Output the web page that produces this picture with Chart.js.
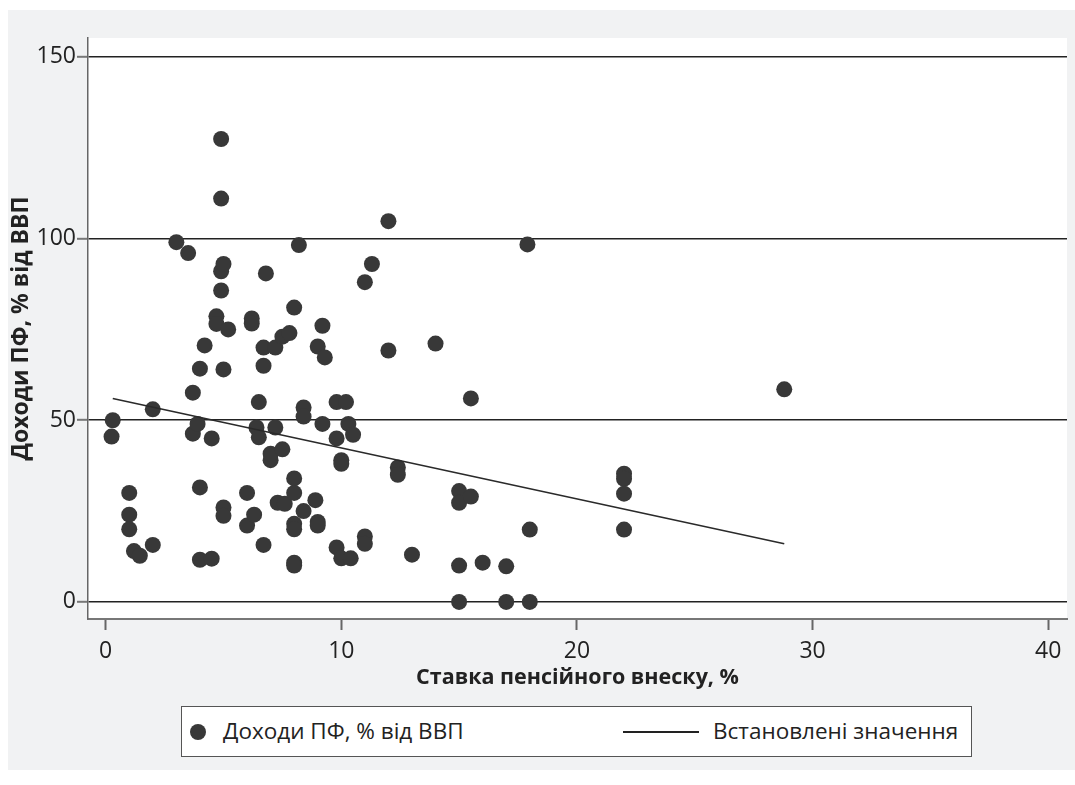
<!DOCTYPE html>
<html>
<head>
<meta charset="utf-8">
<script src="https://cdn.jsdelivr.net/npm/chart.js@4.4.1/dist/chart.umd.min.js"></script>
<style>
body { margin: 0; background: #fff; }
#wrap { position: relative; width: 1075px; height: 785px; }
#legend {
	position: absolute; left: 181px; top: 706px; width: 789px; height: 49px;
	border: 1.5px solid #555; background: #fff;
	font-family: "Open Sans", sans-serif; font-size: 22.5px; color: #222;
}
#legend .dot { position: absolute; left: 8px; top: 17px; width: 16px; height: 16px; border-radius: 50%; background: #383838; }
#legend .line { position: absolute; left: 441px; top: 24px; width: 76px; height: 2px; background: #222; }
#legend .txt { position: absolute; top: 9px; line-height: 30px; white-space: nowrap; }
</style>
</head>
<body>
<div id="wrap">
	<canvas id="chart" width="1075" height="785"></canvas>
	<div id="legend">
		<div class="dot"></div><div class="txt" style="left:41px">Доходи ПФ, % від ВВП</div>
		<div class="line"></div><div class="txt" style="left:531px">Встановлені значення</div>
	</div>
</div>
<script>
"use strict";

// pension contribution rate, %
const rateX = [
	0.3, 0.25, 1.0, 1.0, 1.0, 1.2, 1.45, 2.0, 2.0,
	3.0, 3.5, 3.7, 3.7, 3.9, 4.0, 4.2, 4.0, 4.0, 4.5, 4.5,
	4.7, 4.7, 5.2, 4.9, 4.9, 4.9, 5.0, 4.9, 5.0, 5.0, 5.0,
	6.0, 6.0, 6.2, 6.2, 6.3, 6.4, 6.5, 6.5, 6.7, 6.7, 6.8, 6.7,
	7.0, 7.0, 7.2, 7.2, 7.5, 7.5, 7.3, 7.6, 7.8,
	8.0, 8.0, 8.0, 8.0, 8.0, 8.0, 8.0, 8.2, 8.4, 8.4, 8.4,
	8.9, 9.0, 9.0, 9.0, 9.2, 9.2, 9.3, 9.8, 9.8, 9.8, 10.0, 10.0, 10.0, 10.2, 10.3, 10.4, 10.5,
	11.0, 11.0, 11.0, 11.3, 12.0, 12.0, 12.4, 12.4, 13.0, 14.0,
	15.0, 15.0, 15.0, 15.0, 15.5, 15.5, 16.0, 17.0, 17.0, 17.9, 18.0, 18.0,
	22.0, 22.0, 22.0, 22.0, 28.8
];
// pension fund revenues, % of GDP
const revenueY = [
	50, 45.5, 30, 24, 20, 14, 12.7, 53, 15.7,
	99, 96, 57.6, 46.3, 49, 64.2, 70.6, 31.5, 11.6, 11.9, 45,
	78.6, 76.5, 75, 127.4, 111, 91, 93, 85.7, 64, 26, 23.7,
	30, 21, 78, 76.6, 24, 48, 55, 45.3, 70, 65, 90.4, 15.7,
	39, 40.8, 48, 70, 73, 42, 27.3, 27, 74,
	81, 34, 30, 21.5, 20, 10.8, 10, 98.2, 53.5, 51, 25,
	28, 70.3, 22, 21, 76, 49, 67.3, 45, 55, 15, 39, 38, 12, 55, 49, 12, 46,
	88, 18, 16, 93, 104.8, 69.2, 37, 35, 13, 71.1,
	30.5, 27.3, 10, 0, 56, 29, 10.8, 9.8, 0, 98.4, 19.9, 0,
	35.3, 33.9, 29.8, 19.9, 58.5
];
// fitted values (ends of the line)
const fitX = [0.3, 28.8];
const fitY = [56, 16];

const xTicks = [0, 10, 20, 30, 40];
const yTicks = [0, 50, 100, 150];

const pointsData = rateX.map((x, i) => ({ x: x, y: revenueY[i] }));
const fitData = fitX.map((x, i) => ({ x: x, y: fitY[i] }));

const panelBg = {
	id: "panelBg",
	beforeDraw(chart) {
		const c = chart.ctx;
		const a = chart.chartArea;
		c.save();
		c.fillStyle = "#f1f2f3";
		c.fillRect(8, 10, chart.width - 8, 760);
		c.fillStyle = "#fff";
		c.fillRect(a.left, a.top, a.right - a.left, a.bottom - a.top);
		c.restore();
	},
};

const ctx = document.getElementById("chart");
new Chart(ctx, {
	type: "scatter",
	data: {
		datasets: [
			{
				label: "Встановлені значення",
				data: fitData,
				showLine: true,
				borderColor: "#2a2a2a",
				borderWidth: 1.6,
				pointRadius: 0,
				order: 0,
			},
			{
				label: "Доходи ПФ, % від ВВП",
				data: pointsData,
				backgroundColor: "#383838",
				borderWidth: 0,
				pointRadius: 8,
				order: 1,
			},
		],
	},
	options: {
		responsive: false,
		animation: false,
		layout: { padding: { left: 0, top: 38, right: 8, bottom: 85 } },
		plugins: {
			legend: { display: false },
			tooltip: { enabled: false },
		},
		scales: {
			x: {
				min: -0.75,
				max: 40.8,
				afterBuildTicks: (s) => { s.ticks = xTicks.map((v) => ({ value: v })); },
				afterFit: (s) => { s.height = 81; },
				ticks: { color: "#222", padding: 8, font: { family: "Open Sans", size: 23 } },
				grid: { drawOnChartArea: false, tickColor: "#666", tickLength: 11, tickWidth: 2 },
				border: { color: "#777", width: 2 },
				title: {
					display: true,
					text: "Ставка пенсійного внеску, %",
					color: "#222",
					padding: { top: 0, bottom: 9 },
					font: { family: "Open Sans", size: 21.5, weight: "bold" },
				},
			},
			y: {
				min: -4.7,
				max: 155.2,
				afterBuildTicks: (s) => { s.ticks = yTicks.map((v) => ({ value: v })); },
				afterFit: (s) => { s.width = 88; },
				ticks: { color: "#222", padding: 1, font: { family: "Open Sans", size: 23 } },
				grid: { color: "#222", lineWidth: 1.6, tickColor: "#777", tickLength: 11, tickWidth: 2 },
				border: { color: "#666", width: 1.5 },
				title: {
					display: true,
					text: "Доходи ПФ, % від ВВП",
					color: "#222",
					padding: { top: 8, bottom: 0 },
					font: { family: "Open Sans", size: 23, weight: "bold" },
				},
			},
		},
	},
	plugins: [panelBg],
});
</script>
</body>
</html>
